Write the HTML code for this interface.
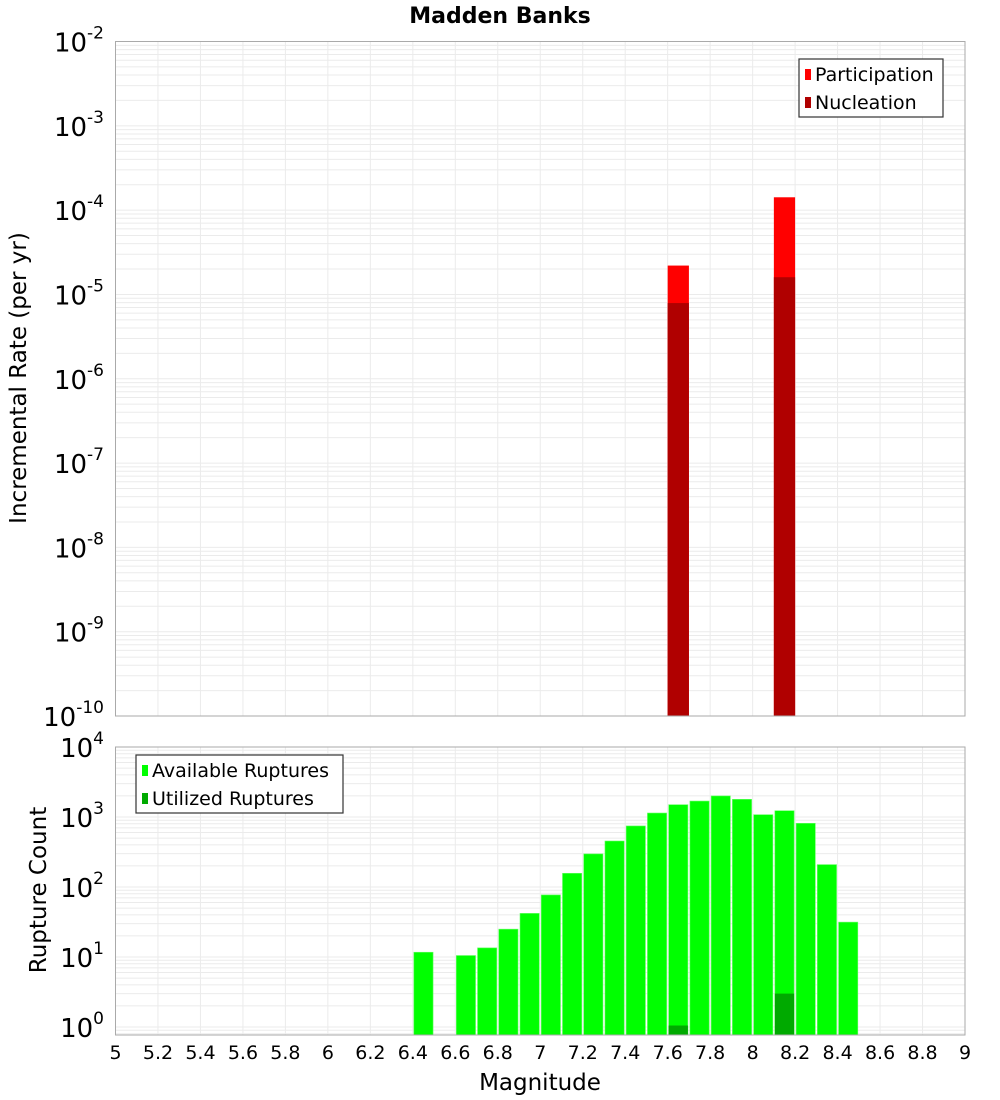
<!DOCTYPE html>
<html><head><meta charset="utf-8"><style>
body{margin:0;background:#fff;}
svg{display:block;font-family:"DejaVu Sans","Liberation Sans",sans-serif;}
</style></head><body>
<svg id="c" width="1000" height="1100" xmlns="http://www.w3.org/2000/svg">
<text x="500" y="23" text-anchor="middle" font-size="22" font-weight="bold">Madden Banks</text>
<text transform="translate(26,378) rotate(-90)" text-anchor="middle" font-size="23">Incremental Rate (per yr)</text>
<text transform="translate(46,890) rotate(-90)" text-anchor="middle" font-size="23">Rupture Count</text>
<text x="540" y="1090" text-anchor="middle" font-size="23">Magnitude</text>
<g id="top"></g><g id="bot"></g>
</svg>
<script>
const magBins = [6.45,6.55,6.65,6.75,6.85,6.95,7.05,7.15,7.25,7.35,7.45,7.55,7.65,7.75,7.85,7.95,8.05,8.15,8.25,8.35,8.45];
const availableCounts = [11.7,0,10.5,13.5,25,42,77,157,297,454,745,1140,1500,1690,2000,1790,1080,1230,813,209,31.5];
const utilizedCounts = [0,0,0,0,0,0,0,0,0,0,0,0,1.05,0,0,0,0,3,0,0,0];
const rateMags = [7.65,8.15];
const participationRates = [2.2e-5,1.42e-4];
const nucleationRates = [7.9e-6,1.6e-5];
const xTicks = [5,5.2,5.4,5.6,5.8,6,6.2,6.4,6.6,6.8,7,7.2,7.4,7.6,7.8,8,8.2,8.4,8.6,8.8,9];
const topExps = [-10,-9,-8,-7,-6,-5,-4,-3,-2];
const botExps = [0,1,2,3,4];

const NS='http://www.w3.org/2000/svg';
const X0=115.5,X1=965;
const xs=m=>X0+(m-5)/4*(X1-X0);
function mk(p,t,a){const e=document.createElementNS(NS,t);for(const k in a)e.setAttribute(k,a[k]);p.appendChild(e);return e;}
function panel(g,top,bottom,yOf,eMin,eMax,lblShift){
  for(let e=eMin-1;e<=eMax;e++)for(let k=1;k<10;k++){const y=yOf(k*Math.pow(10,e));if(y<top-0.1||y>bottom+0.1)continue;
    const l=mk(g,'line',{x1:X0,x2:X1,y1:y,y2:y,stroke:'#ebebeb','stroke-width':1});
    
    }
  xTicks.forEach(t=>{const l=mk(g,'line',{x1:xs(t),x2:xs(t),y1:top,y2:bottom,stroke:'#ebebeb','stroke-width':1});
    
    });
}
function ylabels(g,exps,yOf,dy){
  exps.forEach(e=>{const y=yOf(Math.pow(10,e));const t=mk(g,'text',{x:104,y:y+dy,'text-anchor':'end','font-size':26});
    
    
    const a=mk(t,'tspan',{});a.textContent='10';
    const b=mk(t,'tspan',{dy:-13,'font-size':17});b.textContent=String(e);});
}
// top panel
const T0=41.5,T1=716;
const yT=v=>T0+(-2-Math.log10(v))*(T1-T0)/8;
const gt=document.getElementById('top');
panel(gt,T0,T1,yT,-10,-2);
rateMags.forEach((m,i)=>{
  const x=xs(m-0.05),w=xs(m+0.05)-x;
  const p=mk(gt,'rect',{x:x,y:yT(participationRates[i]),width:w,height:T1-yT(participationRates[i]),fill:'#ff0000'});
  
  
  const n=mk(gt,'rect',{x:x,y:yT(nucleationRates[i]),width:w,height:T1-yT(nucleationRates[i]),fill:'#b00000'});
  
  
});
mk(gt,'rect',{x:X0,y:T0,width:X1-X0,height:T1-T0,fill:'none',stroke:'#aaa'});
ylabels(gt,topExps,yT,10);
// bottom panel
const B0=747,B1=1035,DEC=70;
const yB=v=>B0+(4-Math.log10(v))*DEC;
const gb=document.getElementById('bot');
panel(gb,B0,B1,yB,0,4);
magBins.forEach((m,i)=>{
  const x=xs(m-0.05)+1,w=xs(m+0.05)-xs(m-0.05)-2;
  if(availableCounts[i]>0){const r=mk(gb,'rect',{x:x,y:yB(availableCounts[i]),width:w,height:B1-yB(availableCounts[i]),fill:'#00ff00',stroke:'#66ff66','stroke-width':0.6});
    
    }
  if(utilizedCounts[i]>0){const r=mk(gb,'rect',{x:x,y:yB(utilizedCounts[i]),width:w,height:B1-yB(utilizedCounts[i]),fill:'#00aa00'});
    
    }
});
mk(gb,'rect',{x:X0,y:B0,width:X1-X0,height:B1-B0,fill:'none',stroke:'#aaa'});
ylabels(gb,botExps,yB,10);
xTicks.forEach(t=>{const e=mk(gb,'text',{x:xs(t),y:1059,'text-anchor':'middle','font-size':19});
  
  
  e.textContent=String(t);});
// legends
function legend(g,x,y,w,items,name){
  const lg=mk(g,'g',{});
  
  
  mk(lg,'rect',{x:x,y:y,width:w,height:58,fill:'#fff',stroke:'#333','stroke-width':1.2});
  items.forEach((it,i)=>{const cy=y+15+i*28;
    mk(lg,'rect',{x:x+6,y:cy-5,width:6,height:11,fill:it[1]});
    const t=mk(lg,'text',{x:x+16,y:cy+7,'font-size':19});
    
    
    t.textContent=it[0];});
}
legend(gt,799,59,144,[['Participation','#ff0000'],['Nucleation','#b00000']],'top-legend');
legend(gb,136,755,207,[['Available Ruptures','#00ff00'],['Utilized Ruptures','#00aa00']],'bottom-legend');
</script>
</body></html>
